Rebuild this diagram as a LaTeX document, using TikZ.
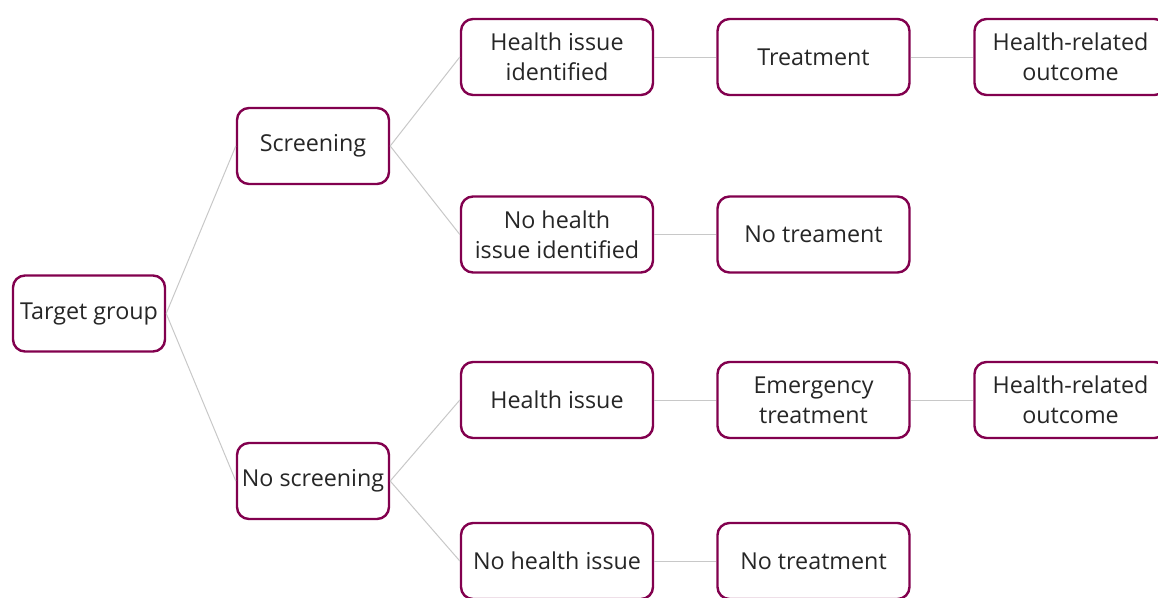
\documentclass[tikz,border=0pt]{standalone}
\usepackage{fontspec}
\setmainfont{Open Sans}
\definecolor{boxc}{HTML}{82004E}
\definecolor{linec}{HTML}{C8C8C8}
\tikzset{
  box/.style={draw=boxc, line width=2.4pt, rounded corners=12pt, fill=white,
    minimum width=192pt, minimum height=76pt, align=center, inner sep=0pt,
    font=\fontsize{23.3}{30}\selectfont, text=black!85},
  smallbox/.style={box, minimum width=152pt},
  conn/.style={draw=linec, line width=1pt}
}
\begin{document}
\begin{tikzpicture}[x=1pt,y=-1pt]
\useasboundingbox (0,0) rectangle (1158,597);
\clip (0,0) rectangle (1158,597);
\node[smallbox] (tg) at (89,313.5) {Target group};
\node[smallbox] (scr) at (313,146) {Screening};
\node[smallbox] (noscr) at (313,481) {No screening};
\node[box] (hii) at (557,57) {Health issue\\identified};
\node[box] (nhii) at (557,234.5) {No health\\issue identified};
\node[box] (hi) at (557,400) {Health issue};
\node[box] (nhi) at (557,561) {No health issue};
\node[box] (tr) at (813.5,57) {Treatment};
\node[box] (notr1) at (813.5,234.5) {No treament};
\node[box] (emtr) at (813.5,400) {Emergency\\treatment};
\node[box] (notr2) at (813.5,561) {No treatment};
\node[box] (out1) at (1070.5,57) {Health-related\\outcome};
\node[box] (out2) at (1070.5,400) {Health-related\\outcome};
\path[conn] (tg.east) -- (scr.west);
\path[conn] (tg.east) -- (noscr.west);
\path[conn] (scr.east) -- (hii.west);
\path[conn] (scr.east) -- (nhii.west);
\path[conn] (noscr.east) -- (hi.west);
\path[conn] (noscr.east) -- (nhi.west);
\path[conn] (hii.east) -- (tr.west);
\path[conn] (nhii.east) -- (notr1.west);
\path[conn] (hi.east) -- (emtr.west);
\path[conn] (nhi.east) -- (notr2.west);
\path[conn] (tr.east) -- (out1.west);
\path[conn] (emtr.east) -- (out2.west);
\end{tikzpicture}
\end{document}
